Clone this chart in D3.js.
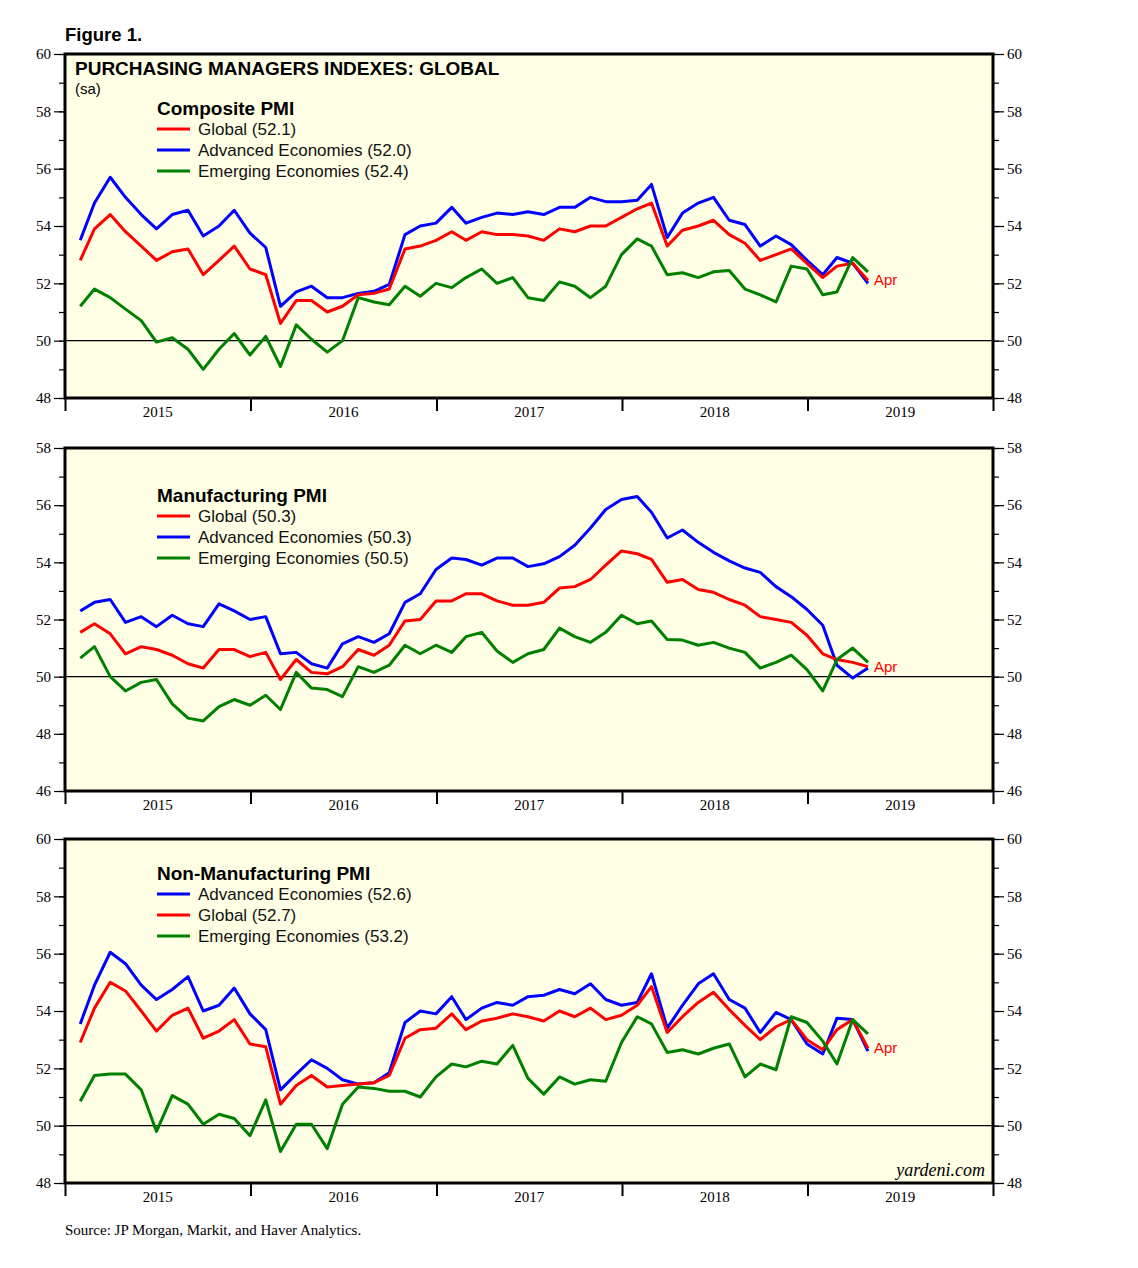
<!DOCTYPE html>
<html>
<head>
<meta charset="utf-8">
<script src="https://cdn.jsdelivr.net/npm/d3@7"></script>
<style>
  body { margin: 0; background: #fff; }
  svg text { font-family: "Liberation Sans", Arial, sans-serif; }
  .serif { font-family: "Liberation Serif", "Times New Roman", serif; }
</style>
</head>
<body>
<div id="chart"></div>
<script>
// monthly, Jan 2015 - Apr 2019
const months = d3.timeMonth.range(new Date(2015, 0, 1), new Date(2019, 4, 1));
const yearLabels = ['2015', '2016', '2017', '2018', '2019'];

const compGlobal = [52.8, 53.9, 54.4, 53.8, 53.3, 52.8, 53.1, 53.2, 52.3, 52.8, 53.3, 52.5, 52.3, 50.6, 51.4, 51.4, 51.0, 51.2, 51.6, 51.65,
  51.8, 53.2, 53.3, 53.5, 53.8, 53.5, 53.8, 53.7, 53.7, 53.65, 53.5, 53.9, 53.8, 54.0, 54.0, 54.3, 54.6, 54.8, 53.3, 53.85,
  54.0, 54.2, 53.7, 53.4, 52.8, 53.0, 53.2, 52.7, 52.2, 52.6, 52.7, 52.1];
const compAdvanced = [53.5, 54.8, 55.7, 55.0, 54.4, 53.9, 54.4, 54.55, 53.65, 54.0, 54.55, 53.75, 53.25, 51.2, 51.7, 51.9, 51.5, 51.5, 51.65, 51.72,
  51.96, 53.7, 54.0, 54.1, 54.65, 54.1, 54.3, 54.45, 54.4, 54.5, 54.4, 54.65, 54.65, 55.0, 54.85, 54.85, 54.9, 55.45, 53.6, 54.45,
  54.8, 55.0, 54.2, 54.05, 53.3, 53.65, 53.35, 52.8, 52.3, 52.9, 52.7, 52.0];
const compEmerging = [51.2, 51.8, 51.5, 51.1, 50.7, 49.95, 50.1, 49.7, 49.0, 49.7, 50.25, 49.5, 50.15, 49.1, 50.55, 50.05, 49.6, 50.0, 51.5, 51.35,
  51.25, 51.9, 51.55, 52.0, 51.85, 52.2, 52.5, 52.0, 52.2, 51.5, 51.4, 52.05, 51.9, 51.5, 51.9, 53.0, 53.55, 53.3, 52.3, 52.37,
  52.2, 52.4, 52.45, 51.8, 51.6, 51.35, 52.6, 52.5, 51.6, 51.7, 52.9, 52.4];

const mfgGlobal = [51.55, 51.85, 51.5, 50.8, 51.05, 50.95, 50.75, 50.45, 50.3, 50.95, 50.95, 50.7, 50.85, 49.9, 50.6, 50.15, 50.1, 50.35, 50.95, 50.75,
  51.1, 51.95, 52.0, 52.65, 52.65, 52.9, 52.9, 52.65, 52.5, 52.5, 52.6, 53.1, 53.15, 53.4, 53.9, 54.4, 54.3, 54.1, 53.3, 53.4,
  53.05, 52.95, 52.7, 52.5, 52.1, 52.0, 51.9, 51.45, 50.8, 50.6, 50.5, 50.35];
const mfgAdvanced = [52.3, 52.6, 52.7, 51.9, 52.1, 51.75, 52.15, 51.85, 51.75, 52.55, 52.3, 52.0, 52.1, 50.8, 50.85, 50.45, 50.3, 51.15, 51.4, 51.2,
  51.5, 52.6, 52.9, 53.75, 54.15, 54.1, 53.9, 54.15, 54.15, 53.85, 53.95, 54.2, 54.6, 55.2, 55.85, 56.2, 56.3, 55.75, 54.85, 55.13,
  54.7, 54.35, 54.05, 53.8, 53.65, 53.15, 52.8, 52.35, 51.8, 50.4, 49.95, 50.3];
const mfgEmerging = [50.65, 51.05, 50.0, 49.5, 49.8, 49.9, 49.05, 48.55, 48.45, 48.95, 49.2, 49.0, 49.35, 48.85, 50.15, 49.6, 49.55, 49.3, 50.35, 50.15,
  50.4, 51.1, 50.8, 51.1, 50.85, 51.4, 51.55, 50.9, 50.5, 50.8, 50.95, 51.7, 51.4, 51.2, 51.55, 52.15, 51.85, 51.95, 51.3, 51.28,
  51.1, 51.2, 51.0, 50.85, 50.3, 50.5, 50.75, 50.25, 49.5, 50.6, 51.0, 50.5];

const nonAdvanced = [53.55, 54.9, 56.05, 55.65, 54.9, 54.4, 54.75, 55.2, 54.0, 54.2, 54.8, 53.9, 53.35, 51.25, 51.8, 52.3, 52.0, 51.6, 51.45, 51.5,
  51.85, 53.6, 54.0, 53.9, 54.5, 53.7, 54.1, 54.3, 54.2, 54.5, 54.55, 54.75, 54.6, 54.95, 54.4, 54.2, 54.3, 55.3, 53.4, 54.2,
  54.95, 55.3, 54.4, 54.1, 53.25, 53.95, 53.7, 52.85, 52.5, 53.75, 53.7, 52.6];
const nonGlobal = [52.9, 54.1, 55.0, 54.7, 54.0, 53.3, 53.85, 54.1, 53.05, 53.3, 53.7, 52.85, 52.75, 50.75, 51.4, 51.75, 51.35, 51.4, 51.45, 51.5,
  51.75, 53.05, 53.35, 53.4, 53.9, 53.35, 53.65, 53.75, 53.9, 53.8, 53.65, 54.0, 53.8, 54.1, 53.7, 53.85, 54.2, 54.85, 53.25, 53.8,
  54.3, 54.65, 54.05, 53.5, 53.0, 53.45, 53.7, 53.0, 52.65, 53.35, 53.7, 52.7];
const nonEmerging = [50.85, 51.75, 51.8, 51.8, 51.25, 49.8, 51.05, 50.75, 50.05, 50.4, 50.25, 49.65, 50.9, 49.1, 50.05, 50.05, 49.2, 50.75, 51.35, 51.3,
  51.2, 51.2, 51.0, 51.7, 52.15, 52.05, 52.25, 52.15, 52.8, 51.65, 51.1, 51.7, 51.45, 51.6, 51.55, 52.9, 53.8, 53.55, 52.55, 52.65,
  52.5, 52.7, 52.85, 51.7, 52.15, 51.95, 53.8, 53.6, 52.95, 52.15, 53.7, 53.2];

const RED = '#ff0000', BLUE = '#0000ff', GREEN = '#008000';

const panels = [
  { top: 54, bottom: 398, domain: [48, 60], title: 'Composite PMI', legendY: 115,
    series: [
      { name: 'Global (52.1)', values: compGlobal, color: RED },
      { name: 'Advanced Economies (52.0)', values: compAdvanced, color: BLUE },
      { name: 'Emerging Economies (52.4)', values: compEmerging, color: GREEN }
    ], draw: [1, 0, 2], apr: 0 },
  { top: 448, bottom: 791, domain: [46, 58], title: 'Manufacturing PMI', legendY: 502,
    series: [
      { name: 'Global (50.3)', values: mfgGlobal, color: RED },
      { name: 'Advanced Economies (50.3)', values: mfgAdvanced, color: BLUE },
      { name: 'Emerging Economies (50.5)', values: mfgEmerging, color: GREEN }
    ], draw: [1, 0, 2], apr: 0 },
  { top: 839, bottom: 1183, domain: [48, 60], title: 'Non-Manufacturing PMI', legendY: 880,
    series: [
      { name: 'Advanced Economies (52.6)', values: nonAdvanced, color: BLUE },
      { name: 'Global (52.7)', values: nonGlobal, color: RED },
      { name: 'Emerging Economies (53.2)', values: nonEmerging, color: GREEN }
    ], draw: [0, 1, 2], apr: 1 }
];

const W = 1138, H = 1268;
const left = 65, right = 993;
const svg = d3.select('#chart').append('svg').attr('width', W).attr('height', H);

const x = d3.scaleTime()
  .domain([new Date(2015, 0, 1), new Date(2020, 0, 1)])
  .range([left, right]);
// points sit at month end
const xm = (d) => x(d3.timeDay.offset(d3.timeMonth.offset(d, 1), -1));

svg.append('text').attr('x', 65).attr('y', 41)
  .attr('font-size', 18.5).attr('font-weight', 'bold').text('Figure 1.');

panels.forEach((p, pi) => {
  const y = d3.scaleLinear().domain(p.domain).range([p.bottom, p.top]);
  const g = svg.append('g');

  g.append('rect').attr('x', left).attr('y', p.top)
    .attr('width', right - left).attr('height', p.bottom - p.top)
    .attr('fill', '#ffffe5');

  // 50 reference line
  g.append('line').attr('x1', left).attr('x2', right)
    .attr('y1', y(50)).attr('y2', y(50))
    .attr('stroke', '#000').attr('stroke-width', 1.2);

  const ticks = d3.range(p.domain[0], p.domain[1] + 1);
  const major = ticks.filter((t) => t % 2 === 0);

  // left + right axes
  const yl = d3.axisLeft(y).tickValues(ticks).tickSizeOuter(0)
    .tickSize(6).tickFormat('');
  const ylm = d3.axisLeft(y).tickValues(major).tickSizeOuter(0).tickSize(11).tickPadding(3);
  const yr = d3.axisRight(y).tickValues(ticks).tickSizeOuter(0).tickSize(6).tickFormat('');
  const yrm = d3.axisRight(y).tickValues(major).tickSizeOuter(0).tickSize(11).tickPadding(3);
  [[yl, left], [ylm, left], [yr, right], [yrm, right]].forEach(([ax, tx]) => {
    const a = g.append('g').attr('transform', `translate(${tx},0)`).call(ax);
    a.select('.domain').remove();
    a.selectAll('line').attr('stroke', '#000').attr('stroke-width', 1.2);
    a.selectAll('text').attr('class', 'serif').attr('font-size', 15).attr('fill', '#000');
  });

  // x axis: year ticks and centred labels
  const years = d3.timeYear.range(new Date(2015, 0, 1), new Date(2021, 0, 1));
  const xa = g.append('g').attr('transform', `translate(0,${p.bottom})`)
    .call(d3.axisBottom(x).tickValues(years).tickSize(13).tickFormat('').tickSizeOuter(0));
  xa.select('.domain').remove();
  xa.selectAll('line').attr('stroke', '#000').attr('stroke-width', 2);
  yearLabels.forEach((lab, i) => {
    const mid = (x(new Date(2015 + i, 0, 1)) + x(new Date(2016 + i, 0, 1))) / 2;
    g.append('text').attr('class', 'serif').attr('x', mid).attr('y', p.bottom + 19)
      .attr('text-anchor', 'middle').attr('font-size', 15).text(lab);
  });

  const line = d3.line().x((d, i) => xm(months[i])).y((d) => y(d));
  p.draw.forEach((si) => {
    const s = p.series[si];
    g.append('path').datum(s.values).attr('d', line)
      .attr('fill', 'none').attr('stroke', s.color).attr('stroke-width', 3)
      .attr('stroke-linejoin', 'round');
  });

  // frame
  g.append('rect').attr('x', left).attr('y', p.top)
    .attr('width', right - left).attr('height', p.bottom - p.top)
    .attr('fill', 'none').attr('stroke', '#000').attr('stroke-width', 3);

  // "Apr" marker
  const aprS = p.series[p.apr];
  const last = aprS.values[aprS.values.length - 1];
  g.append('text').attr('x', xm(months[months.length - 1]) + 6).attr('y', y(last) + 5)
    .attr('fill', RED).attr('font-size', 15).text('Apr');

  // legend
  g.append('text').attr('x', 157).attr('y', p.legendY)
    .attr('font-size', 19).attr('font-weight', 'bold').text(p.title);
  p.series.forEach((s, i) => {
    const ly = p.legendY + 21 * (i + 1) - 7;
    g.append('line').attr('x1', 157).attr('x2', 190).attr('y1', ly).attr('y2', ly)
      .attr('stroke', s.color).attr('stroke-width', 3);
    g.append('text').attr('x', 198).attr('y', ly + 6)
      .attr('font-size', 17).attr('fill', '#111').text(s.name);
  });

  if (pi === 0) {
    g.append('text').attr('x', 75).attr('y', 75).attr('font-size', 19)
      .attr('font-weight', 'bold').text('PURCHASING MANAGERS INDEXES: GLOBAL');
    g.append('text').attr('x', 75).attr('y', 94).attr('font-size', 15).text('(sa)');
  }
  if (pi === 2) {
    g.append('text').attr('class', 'serif').attr('x', 985).attr('y', p.bottom - 7)
      .attr('text-anchor', 'end').attr('font-size', 18).attr('font-style', 'italic')
      .text('yardeni.com');
  }
});

svg.append('text').attr('class', 'serif').attr('x', 65).attr('y', 1235)
  .attr('font-size', 15).text('Source: JP Morgan, Markit, and Haver Analytics.');
</script>
</body>
</html>
